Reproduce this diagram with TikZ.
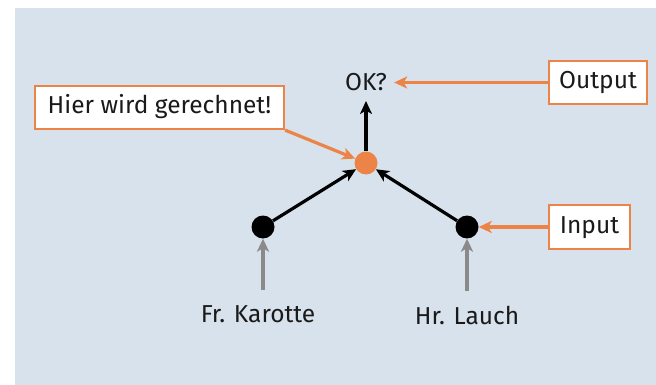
\documentclass[tikz,border=0pt]{standalone}
\usepackage{fontspec}
\setmainfont{Fira Sans}
\usetikzlibrary{arrows.meta}
\definecolor{bgblue}{HTML}{D8E2EC}
\definecolor{orng}{HTML}{EC8447}
\definecolor{txt}{HTML}{1A1A1A}
\definecolor{grayarr}{HTML}{8A8A8A}
\tikzset{
  lbl/.style={font=\fontsize{24.5}{29}\selectfont, text=txt},
  obox/.style={lbl, draw=orng, line width=2.2pt, fill=white, inner sep=0pt, text height=18pt, text depth=5pt},
  blackdot/.style={circle, fill=black, minimum size=23pt, inner sep=0pt},
  orangedot/.style={circle, fill=orng, minimum size=23pt, inner sep=0pt},
  tip/.style={-{Stealth[length=13pt, width=12pt, inset=3.5pt]}},
  blk/.style={tip, line width=3.2pt, draw=black},
  orl/.style={tip, line width=3.2pt, draw=orng},
  gyl/.style={tip, line width=3.2pt, draw=grayarr},
}
\begin{document}
\begin{tikzpicture}[x=1pt, y=-1pt]
\useasboundingbox (0,0) rectangle (656,385);
\fill[bgblue] (15,8) rectangle (656,385);
% dots
\node[orangedot] (ctr) at (366,163) {};
\node[blackdot] (l) at (263,227) {};
\node[blackdot] (r) at (467,227) {};
% OK label
\node[lbl, anchor=south, inner xsep=7pt, inner ysep=10pt, text height=18pt, text depth=0pt] (ok) at (366,101) {OK?};
% boxes
\node[obox, minimum width=98pt, minimum height=43pt] (out) at (598,82.5) {Output};
\node[obox, minimum width=249pt, minimum height=43pt] (hier) at (159.5,107.5) {Hier wird gerechnet!};
\node[obox, minimum width=81pt, minimum height=44pt] (inp) at (589.5,227) {Input};
% names
\node[lbl, anchor=base] (fr) at (258,322) {Fr. Karotte};
\node[lbl, anchor=base] (hr) at (467,324) {Hr. Lauch};
\coordinate (fa) at (263,290);
\coordinate (ha) at (467,291);
% connectors
\draw[blk] (ctr) -- (ok.south);
\draw[blk] (l) -- (ctr);
\draw[blk] (r) -- (ctr);
\draw[orl] (out.west) -- (out.west -| ok.east);
\draw[orl] (inp.west) -- (r);
\draw[orl] (hier.south east) -- (ctr);
\draw[gyl] (fa) -- (l);
\draw[gyl] (ha) -- (r);
\end{tikzpicture}
\end{document}
